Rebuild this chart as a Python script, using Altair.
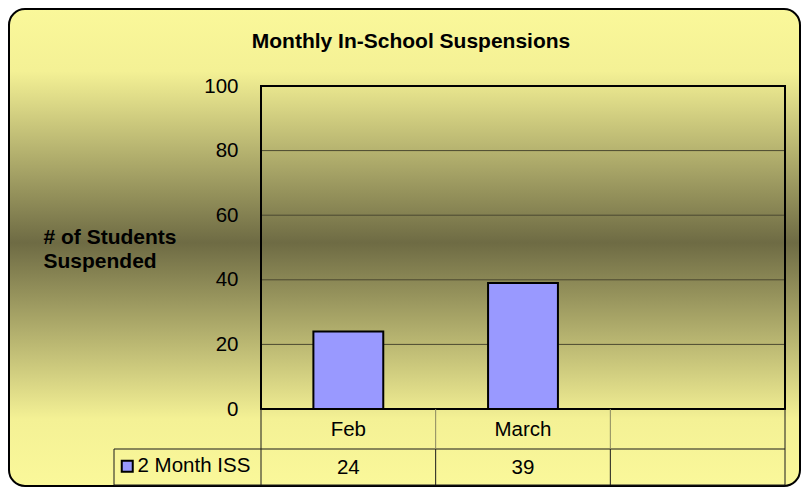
import altair as alt
import pandas as pd

# ---- data ----
categories = ["Feb", "March", ""]
iss_values = [24, 39, None]
series_name = "2 Month ISS"
y_ticks = [0, 20, 40, 60, 80, 100]
grid_values = [20, 40, 60, 80]
title_text = "Monthly In-School Suspensions"
y_title = ["# of Students", "Suspended"]

FONT = "Arial, Liberation Sans, sans-serif"
W, H = 524, 323
STEP = W / 3

df = pd.DataFrame({"cat": categories, "value": iss_values, "series": series_name})
df_bars = df.dropna(subset=["value"])
df_vals = df_bars.assign(label=df_bars["value"].astype(int).astype(str))
df_grid = pd.DataFrame({"value": grid_values})
one = pd.DataFrame({"d": [0]})

x_enc = alt.X("cat:N", sort=categories,
              scale=alt.Scale(domain=categories, paddingInner=0.6, paddingOuter=0.3),
              axis=None)
y_enc = alt.Y("value:Q", scale=alt.Scale(domain=[0, 100], nice=False),
              axis=alt.Axis(values=y_ticks, grid=False, domain=False, ticks=False,
                            labelFontSize=20.5, labelFont=FONT, labelColor="black",
                            labelPadding=23,
                            title=y_title, titleAngle=0, titleAlign="left",
                            titleBaseline="middle", titleX=-218, titleY=151,
                            titleFontSize=21, titleFont=FONT, titleFontWeight="bold",
                            titleColor="black", titleLineHeight=24, zindex=1))

gradient = alt.Gradient(
    gradient="linear", x1=0, x2=0, y1=0, y2=1,
    stops=[
        alt.GradientStop(color="#FAF89A", offset=0),
        alt.GradientStop(color="#F4F195", offset=0.13),
        alt.GradientStop(color="#6E6B44", offset=0.49),
        alt.GradientStop(color="#F4F195", offset=0.86),
        alt.GradientStop(color="#FAF89A", offset=1),
    ],
)

background = alt.Chart(one).mark_rect(
    fill=gradient, stroke="black", strokeWidth=2, cornerRadius=16
).encode(x=alt.value(-252), x2=alt.value(539), y=alt.value(-77), y2=alt.value(400))

grid = alt.Chart(df_grid).mark_rule(color="#4a4830", strokeWidth=1).encode(y=y_enc)

bars = alt.Chart(df_bars).mark_bar(stroke="black", strokeWidth=2).encode(
    x=x_enc, y=y_enc,
    color=alt.Color("series:N", scale=alt.Scale(range=["#9999FF"]),
                    legend=alt.Legend(orient="none", legendX=-144, legendY=370,
                                      title=None, padding=0,
                                      symbolType="square", symbolSize=121,
                                      symbolStrokeColor="black", symbolStrokeWidth=2,
                                      labelFontSize=20.5, labelFont=FONT,
                                      labelColor="black", labelOffset=0, zindex=1)),
)

border = alt.Chart(one).mark_rect(fillOpacity=0, stroke="black", strokeWidth=2).encode(
    x=alt.value(0), x2=alt.value(W), y=alt.value(0), y2=alt.value(H))


def vline(x, y1, y2, color="#1a1a1a"):
    return alt.Chart(one).mark_rule(color=color, strokeWidth=1).encode(
        x=alt.value(x), y=alt.value(y1), y2=alt.value(y2))


def hline(y, x1, x2, color="#1a1a1a"):
    return alt.Chart(one).mark_rule(color=color, strokeWidth=1).encode(
        y=alt.value(y), x=alt.value(x1), x2=alt.value(x2))


table_lines = [
    hline(363, -147, W),
    hline(399, -147, W),
    vline(-147, 363, 399),
    vline(0, H, 399),
    vline(STEP, H, 363, "#8a8860"),
    vline(2 * STEP, H, 363, "#8a8860"),
    vline(W, H, 399),
    vline(STEP, 363, 399),
    vline(2 * STEP, 363, 399),
]

cat_text = alt.Chart(df).mark_text(fontSize=20.5, font=FONT, color="black",
                                   baseline="alphabetic").encode(
    x=x_enc, y=alt.value(350), text="cat:N")

val_text = alt.Chart(df_vals).mark_text(fontSize=20.5, font=FONT, color="black",
                                        baseline="alphabetic").encode(
    x=x_enc, y=alt.value(388), text="label:N")

title = alt.Chart(one).mark_text(text=title_text, fontSize=21, font=FONT,
                                 fontWeight="bold", color="black",
                                 baseline="alphabetic", align="center").encode(
    x=alt.value(150), y=alt.value(-38))

chart = alt.layer(background, grid, bars, border, *table_lines, cat_text, val_text, title).properties(
    width=W, height=H,
    autosize="none",
    padding={"left": 253, "top": 78, "right": 16, "bottom": 78},
).configure_view(stroke=None)

chart.save("out.html", embed_options={"renderer": "svg", "actions": False})
